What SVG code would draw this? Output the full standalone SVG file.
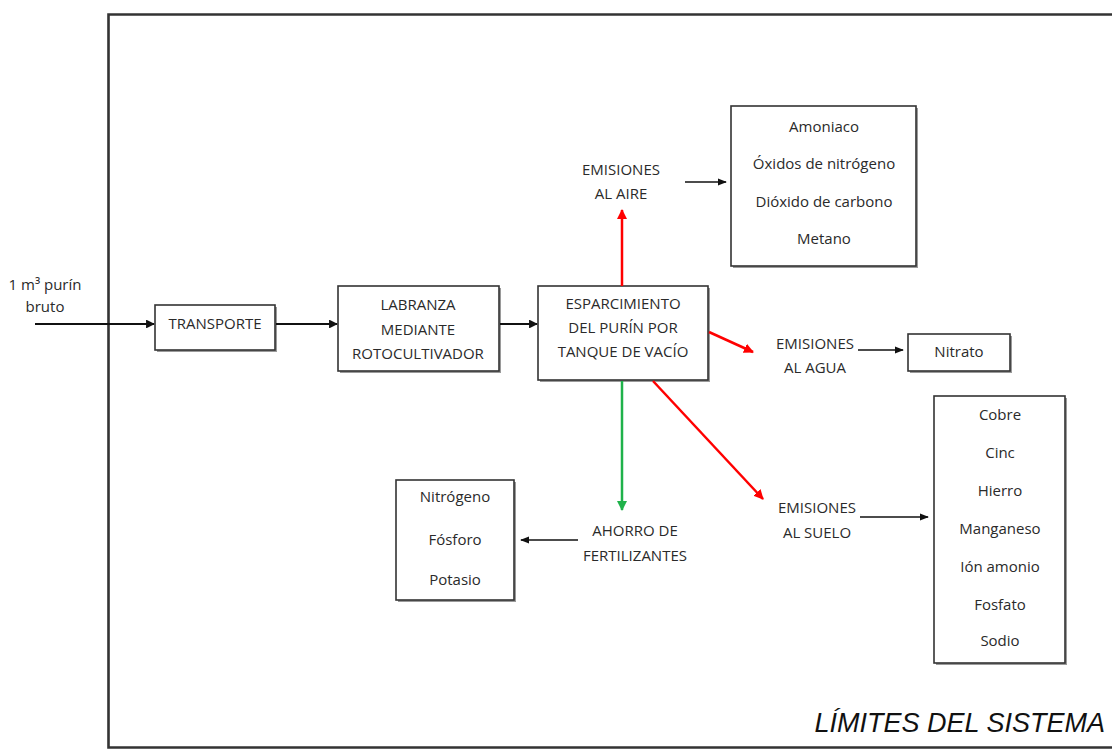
<svg xmlns="http://www.w3.org/2000/svg" width="1112" height="751" viewBox="0 0 1112 751">
<style>
text{font-family:"Open Sans","Liberation Sans",Arial,sans-serif;font-size:15px;fill:#2a2a2a;text-anchor:middle}
.box{fill:#fff;stroke:#333;stroke-width:1.6}
.sh{fill:#9a9a9a}
.k{stroke:#111;stroke-width:2.2;fill:none}
.t{stroke:#111;stroke-width:1.3;fill:none}
.r{stroke:#f00;stroke-width:2.5;fill:none}
.g{stroke:#1fb24a;stroke-width:2.5;fill:none}
</style>
<defs>
<marker id="ak" viewBox="0 0 10 10" refX="9" refY="5" markerWidth="4" markerHeight="4" orient="auto"><path d="M0,0L10,5L0,10z" fill="#111"/></marker>
<marker id="at" viewBox="0 0 10 10" refX="9" refY="5" markerWidth="7" markerHeight="7" orient="auto"><path d="M0,1L10,5L0,9z" fill="#111"/></marker>
<marker id="ar" viewBox="0 0 10 10" refX="9" refY="5" markerWidth="4" markerHeight="4" orient="auto"><path d="M0,0L10,5L0,10z" fill="#f00"/></marker>
<marker id="ag" viewBox="0 0 10 10" refX="9" refY="5" markerWidth="4" markerHeight="4" orient="auto"><path d="M0,0L10,5L0,10z" fill="#1fb24a"/></marker>
</defs>
<rect width="1112" height="751" fill="#fff"/>
<g id="limites">
<path d="M1114,14.5H108.5V747.5H1114" fill="none" stroke="#333" stroke-width="2.6"/>
<text x="1105" y="732" style="font-family:'Liberation Sans',Arial,sans-serif;font-size:27px;font-style:italic;text-anchor:end;fill:#111">LÍMITES DEL SISTEMA</text>
</g>
<g id="entrada">
<text x="45" y="290">1 m³ purín</text>
<text x="45" y="312">bruto</text>
</g>
<g id="transporte">
<rect class="sh" x="157" y="307" width="120" height="45"/>
<rect class="box" x="155" y="305" width="120" height="45"/>
<text x="215" y="329">TRANSPORTE</text>
</g>
<g id="labranza">
<rect class="sh" x="340" y="288" width="161" height="85"/>
<rect class="box" x="338" y="286" width="161" height="85"/>
<text x="418" y="310">LABRANZA</text>
<text x="418" y="335">MEDIANTE</text>
<text x="418" y="359">ROTOCULTIVADOR</text>
</g>
<g id="esparcimiento">
<rect class="sh" x="540" y="288" width="170" height="94"/>
<rect class="box" x="538" y="286" width="170" height="94"/>
<text x="623" y="309">ESPARCIMIENTO</text>
<text x="623" y="333">DEL PURÍN POR</text>
<text x="623" y="357">TANQUE DE VACÍO</text>
</g>
<g id="emisiones-aire">
<text x="621" y="175">EMISIONES</text>
<text x="621" y="199">AL AIRE</text>
</g>
<g id="gases-aire">
<rect class="sh" x="733" y="108" width="185" height="160"/>
<rect class="box" x="731" y="106" width="185" height="160"/>
<text x="824" y="132">Amoniaco</text>
<text x="824" y="169">Óxidos de nitrógeno</text>
<text x="824" y="207">Dióxido de carbono</text>
<text x="824" y="244">Metano</text>
</g>
<g id="emisiones-agua">
<text x="815" y="349">EMISIONES</text>
<text x="815" y="373">AL AGUA</text>
</g>
<g id="nitrato">
<rect class="sh" x="910" y="336" width="102" height="37"/>
<rect class="box" x="908" y="334" width="102" height="37"/>
<text x="959" y="357">Nitrato</text>
</g>
<g id="emisiones-suelo">
<text x="817" y="513">EMISIONES</text>
<text x="817" y="538">AL SUELO</text>
</g>
<g id="suelo">
<rect class="sh" x="936" y="398" width="131" height="267"/>
<rect class="box" x="934" y="396" width="131" height="267"/>
<text x="1000" y="420">Cobre</text>
<text x="1000" y="458">Cinc</text>
<text x="1000" y="496">Hierro</text>
<text x="1000" y="534">Manganeso</text>
<text x="1000" y="572">Ión amonio</text>
<text x="1000" y="610">Fosfato</text>
<text x="1000" y="646">Sodio</text>
</g>
<g id="ahorro">
<text x="635" y="536">AHORRO DE</text>
<text x="635" y="561">FERTILIZANTES</text>
</g>
<g id="fertilizantes">
<rect class="sh" x="398" y="482" width="118" height="120"/>
<rect class="box" x="396" y="480" width="118" height="120"/>
<text x="455" y="502">Nitrógeno</text>
<text x="455" y="545">Fósforo</text>
<text x="455" y="585">Potasio</text>
</g>
<g id="conectores">
<line class="k" x1="35" y1="324" x2="154" y2="324" marker-end="url(#ak)"/>
<line class="k" x1="276" y1="324" x2="337" y2="324" marker-end="url(#ak)"/>
<line class="k" x1="500" y1="324" x2="537" y2="324" marker-end="url(#ak)"/>
<line class="r" x1="622" y1="286" x2="622" y2="210" marker-end="url(#ar)"/>
<line class="r" x1="709" y1="332" x2="753" y2="352" marker-end="url(#ar)"/>
<line class="r" x1="653" y1="381" x2="763" y2="499" marker-end="url(#ar)"/>
<line class="g" x1="622" y1="381" x2="622" y2="510" marker-end="url(#ag)"/>
<line class="t" x1="685" y1="182" x2="726" y2="182" marker-end="url(#at)"/>
<line class="t" x1="858" y1="350" x2="903" y2="350" marker-end="url(#at)"/>
<line class="t" x1="860" y1="517" x2="928" y2="517" marker-end="url(#at)"/>
<line class="t" x1="578" y1="540" x2="521" y2="540" marker-end="url(#at)"/>
</g>
</svg>
